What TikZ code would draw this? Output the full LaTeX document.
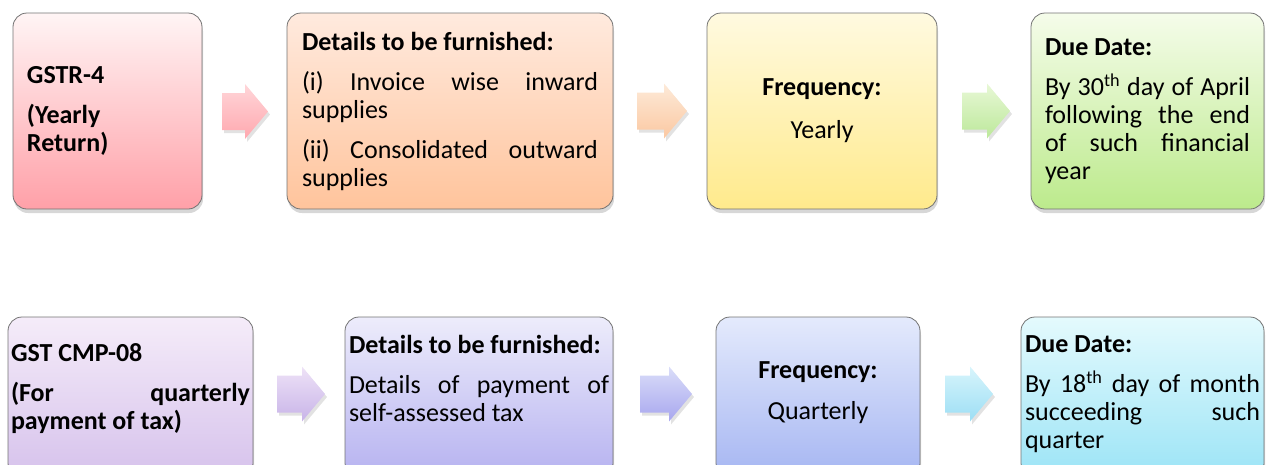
\documentclass[tikz,border=0pt]{standalone}
\usepackage{fontspec}
\setmainfont{Carlito}
\usetikzlibrary{shadows}
\definecolor{ta1t}{RGB}{255,214,217}\definecolor{ta1b}{RGB}{255,168,175}
\definecolor{ta2t}{RGB}{253,234,216}\definecolor{ta2b}{RGB}{251,200,162}
\definecolor{ta3t}{RGB}{232,248,214}\definecolor{ta3b}{RGB}{188,232,154}
\definecolor{ba1t}{RGB}{238,226,247}\definecolor{ba1b}{RGB}{200,180,232}
\definecolor{ba2t}{RGB}{218,222,249}\definecolor{ba2b}{RGB}{168,166,238}
\definecolor{ba3t}{RGB}{216,245,252}\definecolor{ba3b}{RGB}{156,222,244}
\newcommand{\blockarr}[5]{%
  \path[top color=#4, bottom color=#5,
    drop shadow={shadow xshift=2pt, shadow yshift=-3pt, opacity=0.25, fill=black!45}]
   ({#1-#3/2},{#2-18.5}) -- ({#1+#3/2-23},{#2-18.5}) -- ({#1+#3/2-23},{#2-27.5})
   -- ({#1+#3/2},#2) -- ({#1+#3/2-23},{#2+27.5}) -- ({#1+#3/2-23},{#2+18.5})
   -- ({#1-#3/2},{#2+18.5}) -- cycle;}
\newcommand{\padbelow}[1]{\par\vspace*{#1}\nointerlineskip\hbox{}}
\begin{document}
\begin{tikzpicture}[x=1pt,y=-1pt,
  box/.style={draw=black!55, line width=0.8pt, rounded corners=14pt,
    font=\fontsize{26}{28}\selectfont, inner ysep=0pt, align=justify,
    drop shadow={shadow xshift=1pt, shadow yshift=-4pt, opacity=0.35, fill=black!45}}
]
\useasboundingbox (0,0) rectangle (1275,464);
\clip (0,0) rectangle (1275,464);

% ---- top row ----
\node[box, top color=red!4!white, bottom color={rgb,255:red,255;green,160;blue,168},
  text width=161pt, inner xsep=14pt, minimum height=196pt] (t1) at (107.5,111)
  {\bfseries GSTR-4\par\vspace{12pt}\fontsize{26}{30}\selectfont(Yearly\\Return)};
\node[box, top color={rgb,255:red,255;green,234;blue,222}, bottom color={rgb,255:red,255;green,196;blue,156},
  text width=296pt, inner xsep=15pt, minimum height=196pt] (t2) at (450,111)
  {\textbf{Details to be furnished:}\par\vspace{12pt}(i) Invoice wise inward\linebreak supplies\par\vspace{12pt}(ii) Consolidated outward\linebreak supplies};
\node[box, top color={rgb,255:red,255;green,250;blue,224}, bottom color={rgb,255:red,255;green,234;blue,140},
  text width=200pt, inner xsep=15pt, minimum height=196pt, align=center] (t3) at (822,111)
  {\textbf{Frequency:}\par\vspace{15pt}Yearly};
\node[box, top color={rgb,255:red,245;green,252;blue,234}, bottom color={rgb,255:red,188;green,234;blue,140},
  text width=205pt, inner xsep=14pt, minimum height=196pt] (t4) at (1147.5,111)
  {\textbf{Due Date:}\par\vspace{12pt}By 30\textsuperscript{th} day of April\linebreak following the end\linebreak of such financial\linebreak year};

\blockarr{245}{111.5}{46}{ta1t}{ta1b}
\blockarr{662}{111}{50}{ta2t}{ta2b}
\blockarr{986}{111}{48}{ta3t}{ta3b}

% ---- bottom row ----
\node[box, top color={rgb,255:red,245;green,236;blue,249}, bottom color={rgb,255:red,214;green,194;blue,236},
  text width=239pt, inner xsep=3pt, minimum height=160pt] (b1) at (130.5,397)
  {\bfseries GST CMP-08\par\vspace{12pt}(For quarterly\linebreak payment of tax)\padbelow{16pt}};
\node[box, top color={rgb,255:red,237;green,236;blue,251}, bottom color={rgb,255:red,182;green,178;blue,240},
  text width=260pt, inner xsep=4pt, minimum height=160pt] (b2) at (479,397)
  {\textbf{Details to be furnished:}\par\vspace{12pt}Details of payment of\linebreak self-assessed tax\padbelow{38pt}};
\node[box, top color={rgb,255:red,228;green,234;blue,252}, bottom color={rgb,255:red,166;green,182;blue,242},
  text width=190pt, inner xsep=7pt, minimum height=160pt, align=center] (b3) at (818,397)
  {\textbf{Frequency:}\par\vspace{13pt}Quarterly\padbelow{8pt}};
\node[box, top color={rgb,255:red,228;green,250;blue,253}, bottom color={rgb,255:red,156;green,228;blue,246},
  text width=235pt, inner xsep=4pt, minimum height=160pt] (b4) at (1142.5,397)
  {\textbf{Due Date:}\par\vspace{12pt}By 18\textsuperscript{th} day of month\linebreak succeeding such\linebreak quarter\padbelow{6pt}};

\blockarr{301}{394}{48}{ba1t}{ba1b}
\blockarr{666}{394}{52}{ba2t}{ba2b}
\blockarr{969}{394}{48}{ba3t}{ba3b}
\end{tikzpicture}
\end{document}
